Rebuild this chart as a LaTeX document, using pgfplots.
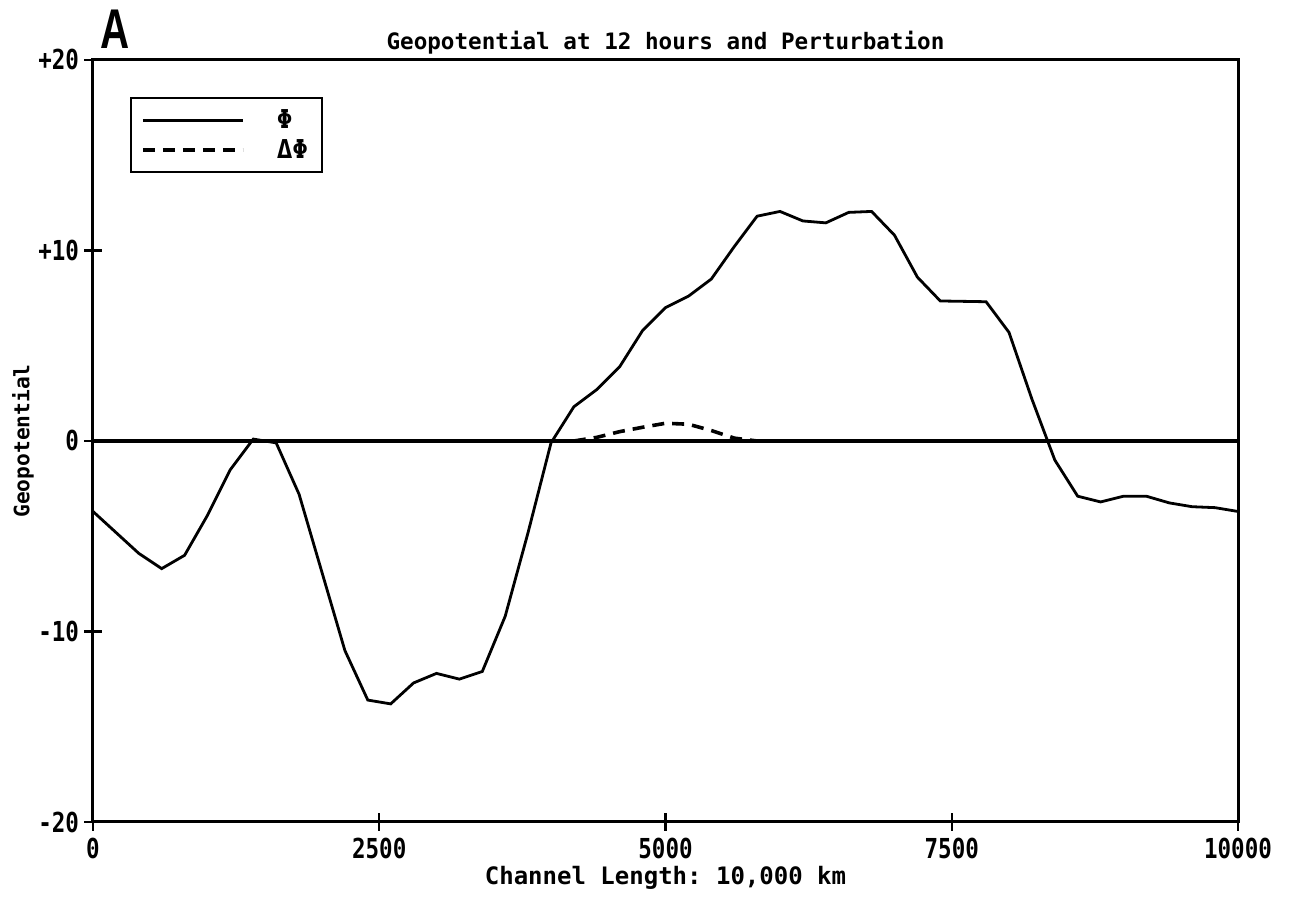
\documentclass[border=0pt]{standalone}
\usepackage{fontspec}
\setmainfont{Liberation Sans}
\setmonofont{DejaVu Sans Mono}
\usepackage{graphicx}
\usepackage{pgfplots}
\pgfplotsset{compat=1.18}
\newcommand\tl[1]{\scalebox{0.9}[1.1]{#1}}
\begin{document}
\begin{tikzpicture}
\begin{axis}[
  at={(46.5pt,40.5pt)}, anchor=south west,
  scale only axis, width=572.5pt, height=381pt,
  xmin=0, xmax=10000, ymin=-20, ymax=20,
  axis line style={line width=1.5pt},
  xtick pos=bottom, ytick pos=left,
  xtick={0,2500,5000,7500,10000},
  xticklabels={\tl{0},\tl{2500},\tl{5000},\tl{7500},\tl{10000}},
  ytick={-20,-10,0,10,20},
  yticklabels={\tl{-20},\tl{-10},\tl{0},\tl{+10},\tl{+20}},
  scaled x ticks=false, scaled y ticks=false,
  tick align=center, major tick length=9pt,
  tick style={line width=1.2pt, black},
  ticklabel style={font=\ttfamily\bfseries\fontsize{12.5}{12.5}\selectfont},
  yticklabel style={xshift=1pt},
  title={Geopotential at 12 hours and Perturbation},
  every axis title/.style={at={(axis description cs:0.5,1)}, anchor=base, yshift=5pt, font=\ttfamily\bfseries\fontsize{11.3}{11.3}\selectfont},
  xlabel={Channel Length: 10,000 km},
  ylabel={Geopotential},
  every axis x label/.style={at={(axis description cs:0.5,0)}, anchor=base, yshift=-31.5pt, font=\ttfamily\bfseries\fontsize{12}{12}\selectfont},
  every axis y label/.style={at={(axis description cs:0,0.5)}, xshift=-35pt, rotate=90, anchor=center, font=\ttfamily\bfseries\fontsize{10.6}{10.6}\selectfont},
  legend style={at={(axis description cs:0,1)}, anchor=north west, xshift=18.5pt, yshift=-18.5pt,
    draw=black, line width=1.2pt, inner xsep=5pt, inner ysep=3.5pt, row sep=0pt,
    font=\bfseries\ttfamily\fontsize{13}{13}\selectfont,
    /tikz/every odd column/.style={column sep=14pt}},
  legend cell align=left,
  legend image code/.code={\draw[#1] (0pt,0pt) -- (50pt,0pt);},
  clip=false,
]
\addplot[black, line width=1.4pt] coordinates {
(0,-3.7) (200,-4.8) (400,-5.9) (600,-6.7) (800,-6.0) (1000,-3.9) (1200,-1.5)
(1400,0.1) (1600,-0.1) (1800,-2.8) (2000,-6.9) (2200,-11.0) (2400,-13.6)
(2600,-13.8) (2800,-12.7) (3000,-12.2) (3200,-12.5) (3400,-12.1) (3600,-9.2)
(3800,-4.8) (4000,-0.1) (4200,1.8) (4400,2.7) (4600,3.9) (4800,5.8) (5000,7.0)
(5200,7.6) (5400,8.5) (5600,10.2) (5800,11.8) (6000,12.05) (6200,11.55)
(6400,11.45) (6600,12.0) (6800,12.05) (7000,10.8) (7200,8.6) (7400,7.35)
(7600,7.33) (7800,7.31) (8000,5.7) (8200,2.2) (8400,-1.0) (8600,-2.9)
(8800,-3.2) (9000,-2.9) (9200,-2.9) (9400,-3.25) (9600,-3.45) (9800,-3.5)
(10000,-3.7)
};
\addlegendentry{Φ}
\addplot[black, line width=1.8pt, dash pattern=on 6pt off 4pt] coordinates {
(4200,0) (4400,0.19) (4600,0.49) (4800,0.72) (5000,0.93) (5200,0.88)
(5400,0.55) (5600,0.15) (5800,0)
};
\addlegendentry{ΔΦ}
\addplot[black, line width=1.6pt, forget plot] coordinates {(0,0) (10000,0)};
\end{axis}
\node[font=\bfseries\fontsize{28}{28}\selectfont] at (57.5pt,437pt) {\scalebox{0.72}[1]{A}};
\pgfresetboundingbox
\path[use as bounding box] (0,0) rectangle (645.5pt,451.5pt);
\end{tikzpicture}
\end{document}
